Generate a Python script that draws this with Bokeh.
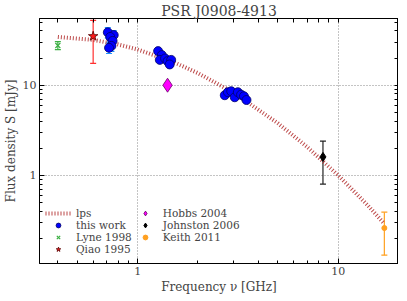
from bokeh.plotting import figure
from bokeh.models import (ColumnDataSource, Whisker, TeeHead, FixedTicker, LogAxis,
                          Legend, LegendItem, NumeralTickFormatter, Range1d)
from bokeh.embed import file_html
from bokeh.resources import INLINE

# ---------------- data (GHz, mJy) ----------------
tw_freq = [0.71, 0.76, 0.73, 0.75, 0.74, 0.72,
           1.265, 1.32, 1.29, 1.37, 1.41, 1.47, 1.445,
           2.72, 2.82, 2.93, 3.05, 3.16, 3.28, 3.39, 3.49]
tw_flux = [38.6, 36.0, 34.3, 31.0, 27.3, 26.0,
           23.9, 21.6, 19.1, 19.8, 18.5, 19.1, 17.0,
           7.74, 8.36, 8.57, 7.35, 8.36, 7.85, 7.54, 6.85]
tw_err = [5.0, 4.5, 4.0, 3.5, 3.5, 3.5,
          0.8, 0.8, 0.8, 0.8, 0.8, 0.8, 0.8,
          0.3, 0.3, 0.3, 0.3, 0.3, 0.3, 0.3, 0.3]

lyne_freq = [0.40]
lyne_flux = [27.6]
lyne_err = [2.8]

qiao_freq = [0.60]
qiao_flux = [35.0]
qiao_err = [17.5]

hobbs_freq = [1.41]
hobbs_flux = [10.0]

johnston_freq = [8.4]
johnston_flux = [1.6]
johnston_err = [0.8]

keith_freq = [17.0]
keith_flux = [0.26]
keith_err = [0.13]

lps_freq = [0.4, 0.6, 0.8, 1.0, 1.5, 2.0, 3.0, 5.0, 7.0, 10.0, 14.0, 17.0]
lps_flux = [34.3, 31.8, 28.3, 24.9, 18.2, 13.6, 8.3, 3.79, 2.07, 1.0, 0.468, 0.29]

x_major = [1, 10]
x_minor = [0.4, 0.5, 0.6, 0.7, 0.8, 0.9, 2, 3, 4, 5, 6, 7, 8, 9, 20]
y_major = [1, 10]
y_minor = [0.2, 0.3, 0.4, 0.5, 0.6, 0.7, 0.8, 0.9, 2, 3, 4, 5, 6, 7, 8, 9, 20, 30, 40, 50]

FONT = "DejaVu Serif"

p = figure(frame_width=359, frame_height=245, x_axis_type="log", y_axis_type="log",
           x_range=Range1d(0.324, 20.0), y_range=Range1d(0.105, 55.0),
           output_backend="svg", toolbar_location=None,
           title="PSR J0908-4913",
           min_border_left=0, min_border_right=0, min_border_top=0, min_border_bottom=0)

p.title.align = "center"
p.title.text_font = FONT
p.title.text_font_size = "14px"
p.title.text_font_style = "normal"
p.title.offset = 0
p.title.standoff = 0
p.title.text_line_height = 0.8

p.outline_line_color = "black"
p.outline_line_width = 1
p.background_fill_color = "white"
p.border_fill_color = "white"


def style_main_axis(ax, major, minor, label):
    ax.ticker = FixedTicker(ticks=major, minor_ticks=minor)
    ax.formatter = NumeralTickFormatter(format="0")
    ax.major_tick_in = 5
    ax.major_tick_out = 0
    ax.minor_tick_in = 3
    ax.minor_tick_out = 0
    ax.axis_line_color = "black"
    ax.major_tick_line_color = "black"
    ax.minor_tick_line_color = "black"
    ax.major_label_text_font = FONT
    ax.major_label_text_font_size = "11px"
    ax.major_label_standoff = 3
    ax.axis_label = label
    ax.axis_label_text_font = FONT
    ax.axis_label_text_font_size = "12px"
    ax.axis_label_text_font_style = "normal"
    ax.axis_label_standoff = 2


def tick_only_axis(major, minor):
    ax = LogAxis(ticker=FixedTicker(ticks=[], minor_ticks=major + minor))
    ax.minor_tick_in = 4
    ax.minor_tick_out = 0
    ax.major_tick_in = 0
    ax.major_tick_out = 0
    ax.axis_line_color = "black"
    ax.minor_tick_line_color = "black"
    ax.major_label_standoff = 0
    return ax


style_main_axis(p.xaxis[0], x_major, x_minor, "Frequency ν [GHz]")
style_main_axis(p.yaxis[0], y_major, y_minor, "Flux density S [mJy]")
p.add_layout(tick_only_axis(x_major, x_minor), "above")
p.add_layout(tick_only_axis(y_major, y_minor), "right")

p.xgrid.ticker = FixedTicker(ticks=x_major)
p.ygrid.ticker = FixedTicker(ticks=y_major)
for g in (p.xgrid[0], p.ygrid[0]):
    g.grid_line_color = "#888888"
    g.grid_line_dash = "1 2"
    g.grid_line_width = 1

# model curve
lps_r = p.line(lps_freq, lps_flux, line_color="#b02828", line_alpha=0.85,
               line_width=4, line_dash="1 2")


def errbars(freq, flux, err, color, lw=1.2, cap=6):
    src = ColumnDataSource(dict(x=freq,
                                lo=[f - e for f, e in zip(flux, err)],
                                hi=[f + e for f, e in zip(flux, err)]))
    w = Whisker(source=src, base="x", lower="lo", upper="hi", dimension="height",
                line_color=color, line_width=lw,
                lower_head=TeeHead(size=cap, line_color=color, line_width=lw),
                upper_head=TeeHead(size=cap, line_color=color, line_width=lw))
    p.add_layout(w)


errbars(lyne_freq, lyne_flux, lyne_err, "#3cb043")
errbars(qiao_freq, qiao_flux, qiao_err, "#ff3030")
errbars(johnston_freq, johnston_flux, johnston_err, "#222222")
errbars(keith_freq, keith_flux, keith_err, "#ffa020")
errbars(tw_freq, tw_flux, tw_err, "#1e90ff")

lyne_r = p.scatter(lyne_freq, lyne_flux, marker="x", size=7, line_color="#3cb043", line_width=1.2)
qiao_r = p.scatter(qiao_freq, qiao_flux, marker="star", size=10, fill_color="#ff1a1a",
                   line_color="#550000", line_width=0.8)
tw_r = p.scatter(tw_freq, tw_flux, marker="circle", size=9, fill_color="#0000ff",
                 line_color="#000066", line_width=0.8)
hobbs_r = p.scatter(hobbs_freq, hobbs_flux, marker="diamond", size=14, fill_color="#ff00ff",
                    line_color="#660066", line_width=0.8)
johnston_r = p.scatter(johnston_freq, johnston_flux, marker="diamond", size=9,
                       fill_color="black", line_color="black")
keith_r = p.scatter(keith_freq, keith_flux, marker="circle", size=5,
                    fill_color="#ffa020", line_color="#ffa020")

legend = Legend(items=[
    LegendItem(label="lps", renderers=[lps_r]),
    LegendItem(label="this work", renderers=[tw_r]),
    LegendItem(label="Lyne 1998", renderers=[lyne_r]),
    LegendItem(label="Qiao 1995", renderers=[qiao_r]),
    LegendItem(label="Hobbs 2004", renderers=[hobbs_r]),
    LegendItem(label="Johnston 2006", renderers=[johnston_r]),
    LegendItem(label="Keith 2011", renderers=[keith_r]),
], location=(6, 8), ncols=2)
legend.label_text_font = FONT
legend.label_text_font_size = "10.5px"
legend.glyph_width = 26
legend.glyph_height = 12
legend.label_height = 12
legend.label_standoff = 5
legend.spacing = 0
legend.padding = 0
legend.margin = 0
legend.border_line_color = None
legend.background_fill_alpha = 0
p.add_layout(legend, "center")

open("out.html", "w").write(file_html(p, INLINE))
